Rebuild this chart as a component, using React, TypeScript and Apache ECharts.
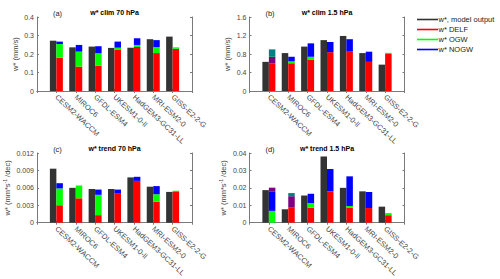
import React, { useEffect, useRef } from 'react';
import * as echarts from 'echarts';

const MODELS = ['CESM2-WACCM', 'MIROC6', 'GFDL-ESM4', 'UKESM1-0-ll', 'HadGEM3-GC31-LL', 'MRI-ESM2-0', 'GISS-E2-2-G'];
const LEGEND_NAMES = ['w*, model output', 'w* DELF', 'w* OGW', 'w* NOGW'];

// (a) w* clim 70 hPa (mm/s)
const A_MODEL = [0.272, 0.236, 0.240, 0.233, 0.234, 0.280, 0.294];
const A_DELF = [0.180, 0.132, 0.137, 0.222, 0.238, 0.205, 0.228];
const A_OGW = [0.074, 0.081, 0.067, 0.012, 0.011, 0.032, 0.008];
const A_NOGW = [0.013, 0.036, 0.038, 0.033, 0.036, 0.038, 0];
const A_OVL_DN = [0, 0, 0, 0, 0, 0, 0];
const A_OVL_ON = [0, 0, 0, 0, 0, 0, 0];

// (b) w* clim 1.5 hPa (mm/s)
const B_MODEL = [0.63, 0.82, 0.96, 1.10, 1.19, 0.82, 0.57];
const B_DELF = [0.60, 0.60, 0.68, 0.84, 0.85, 0.63, 0.80];
const B_OGW = [0, 0.04, 0.06, 0, 0, 0, 0.025];
const B_NOGW = [0, 0.10, 0.29, 0.22, 0.27, 0.22, 0];
const B_OVL_DN = [0.14, 0, 0, 0, 0, 0, 0];
const B_OVL_ON = [0.16, 0, 0, 0, 0, 0, 0];

// (c) w* trend 70 hPa (mm*s-1/dec)
const C_MODEL = [0.0093, 0.0060, 0.0058, 0.0058, 0.0078, 0.0062, 0.0053];
const C_DELF = [0.0030, 0.0042, 0.0013, 0.0051, 0.0072, 0.0036, 0.0054];
const C_OGW = [0.0029, 0.0022, 0.0035, 0, 0, 0.0013, 0.0001];
const C_NOGW = [0.0009, 0, 0.0009, 0.0006, 0.0007, 0.0014, 0];
const C_OVL_DN = [0, 0, 0, 0, 0, 0, 0];
const C_OVL_ON = [0, 0, 0, 0, 0, 0, 0];

// (d) w* trend 1.5 hPa (mm*s-1/dec)
const D_MODEL = [0.0187, 0.0077, 0.0156, 0.0380, 0.0200, 0.0180, 0.0092];
const D_DELF = [0, 0.0086, 0.0086, 0.0180, 0.0087, 0.0084, 0.0043];
const D_OGW = [0.0068, 0, 0.0027, 0, 0.0009, 0, 0.0012];
const D_NOGW = [0.0112, 0, 0.0053, 0.0128, 0.0170, 0.0092, 0];
const D_OVL_DN = [0.0021, 0.0066, 0, 0, 0, 0, 0];
const D_OVL_ON = [0, 0.0018, 0, 0, 0, 0, 0];

const Y_MAX = [0.4, 1.6, 0.012, 0.04];
const Y_STEP = [0.1, 0.4, 0.003, 0.01];
const TITLES = ['w* clim 70 hPa', 'w* clim 1.5 hPa', 'w* trend 70 hPa', 'w* trend 1.5 hPa'];
const TAGS = ['(a)', '(b)', '(c)', '(d)'];
const Y_NAMES = ['w* (mm/s)', 'w* (mm/s)', 'w* (mm*s{sup|-1} /dec)', 'w* (mm*s{sup|-1} /dec)'];

const PANEL_DATA = [
  [A_MODEL, A_DELF, A_OGW, A_NOGW, A_OVL_DN, A_OVL_ON],
  [B_MODEL, B_DELF, B_OGW, B_NOGW, B_OVL_DN, B_OVL_ON],
  [C_MODEL, C_DELF, C_OGW, C_NOGW, C_OVL_DN, C_OVL_ON],
  [D_MODEL, D_DELF, D_OGW, D_NOGW, D_OVL_DN, D_OVL_ON],
];

const COLORS = ['#333333', '#ff0000', '#00ff00', '#0000ff', '#800080', '#008080'];
const SERIES_NAMES = [...LEGEND_NAMES, 'DELF/NOGW overlap', 'OGW/NOGW overlap'];

const GRIDS = [
  { left: 37, top: 17, width: 155, height: 74 },
  { left: 249.5, top: 17, width: 155, height: 74 },
  { left: 37, top: 153, width: 155, height: 75 },
  { left: 249.5, top: 153, width: 155, height: 75 },
];
const NAME_GAPS = [15, 15, 21, 18];
const FONT = 'Liberation Sans, Arial, sans-serif';
const AXIS_COLOR = '#7a7a7a';
const LABEL_COLOR = '#444444';

export default function App() {
  const ref = useRef<HTMLDivElement>(null);
  useEffect(() => {
    if (!ref.current) return;
    const chart = echarts.init(ref.current, undefined, { renderer: 'svg' });
    const categories = ['', ...MODELS, ''];
    const toData = (arr: number[]) => ['-', ...arr.map((v) => (v === 0 ? '-' : v)), '-'];

    const xAxis: any[] = [];
    const yAxis: any[] = [];
    const series: any[] = [];
    const graphic: any[] = [];

    GRIDS.forEach((g, p) => {
      xAxis.push({
        gridIndex: p, type: 'category', data: categories, boundaryGap: false, position: 'bottom',
        axisLine: { lineStyle: { color: AXIS_COLOR, width: 1 } },
        axisTick: { inside: true, length: 2, interval: 0, lineStyle: { color: AXIS_COLOR } },
        axisLabel: { interval: 0, rotate: -43, align: 'left', verticalAlign: 'middle', fontSize: 7.5, color: LABEL_COLOR, margin: 5, fontFamily: FONT },
        splitLine: { show: false },
      });
      xAxis.push({
        gridIndex: p, type: 'category', data: categories, boundaryGap: false, position: 'top',
        axisLine: { lineStyle: { color: AXIS_COLOR, width: 1 } },
        axisTick: { inside: true, length: 2, interval: 0, lineStyle: { color: AXIS_COLOR } },
        axisLabel: { show: false }, splitLine: { show: false },
      });
      yAxis.push({
        gridIndex: p, type: 'value', min: 0, max: Y_MAX[p], interval: Y_STEP[p], position: 'left',
        axisLine: { show: true, lineStyle: { color: AXIS_COLOR, width: 1 } },
        axisTick: { show: true, inside: true, length: 2, lineStyle: { color: AXIS_COLOR } },
        axisLabel: { fontSize: 7, color: LABEL_COLOR, margin: 3, fontFamily: FONT },
        splitLine: { show: false },
        name: Y_NAMES[p], nameLocation: 'middle', nameGap: NAME_GAPS[p],
        nameTextStyle: {
          fontSize: 7.5, color: LABEL_COLOR, fontFamily: FONT, lineHeight: 10,
          rich: { sup: { fontSize: 5, lineHeight: 6, verticalAlign: 'top', color: LABEL_COLOR, fontFamily: FONT } },
        },
      });
      yAxis.push({
        gridIndex: p, type: 'value', min: 0, max: Y_MAX[p], interval: Y_STEP[p], position: 'right',
        axisLine: { show: true, lineStyle: { color: AXIS_COLOR, width: 1 } },
        axisTick: { show: true, inside: true, length: 2, lineStyle: { color: AXIS_COLOR } },
        axisLabel: { show: false }, splitLine: { show: false },
      });

      PANEL_DATA[p].forEach((arr, k) => {
        series.push({
          type: 'bar', name: SERIES_NAMES[k], xAxisIndex: p * 2, yAxisIndex: p * 2,
          stack: k === 0 ? undefined : 'comp' + p,
          data: toData(arr), barWidth: 6.5, barGap: '0%',
          itemStyle: { color: COLORS[k] },
          emphasis: { disabled: true },
        });
      });

      const cx = g.left + g.width / 2;
      const ty = g.top - 5;
      graphic.push({
        type: 'text', x: cx, y: ty,
        style: { text: TITLES[p], fontSize: 7, fontWeight: 'bold', fill: '#000', fontFamily: FONT, align: 'center', verticalAlign: 'middle' },
      });
      graphic.push({
        type: 'text', x: g.left + 20.5, y: ty + 1,
        style: { text: TAGS[p], fontSize: 7.5, fill: '#222', fontFamily: FONT, align: 'center', verticalAlign: 'middle' },
      });
    });

    LEGEND_NAMES.forEach((n, i) => {
      const y = 19.5 + i * 10;
      graphic.push({ type: 'line', shape: { x1: 417, y1: y, x2: 438, y2: y }, style: { stroke: COLORS[i], lineWidth: 1.6 } });
      graphic.push({
        type: 'text', x: 438.5, y,
        style: { text: n, fontSize: 7.5, fill: '#222', fontFamily: FONT, align: 'left', verticalAlign: 'middle' },
      });
    });

    chart.setOption({
      animation: false,
      backgroundColor: '#ffffff',
      textStyle: { fontFamily: FONT },
      grid: GRIDS.map((g) => ({ ...g, containLabel: false })),
      xAxis, yAxis, series, graphic,
    });
    return () => chart.dispose();
  }, []);
  return <div ref={ref} style={{ position: 'absolute', left: 0, top: 0, width: 500, height: 279 }} />;
}
